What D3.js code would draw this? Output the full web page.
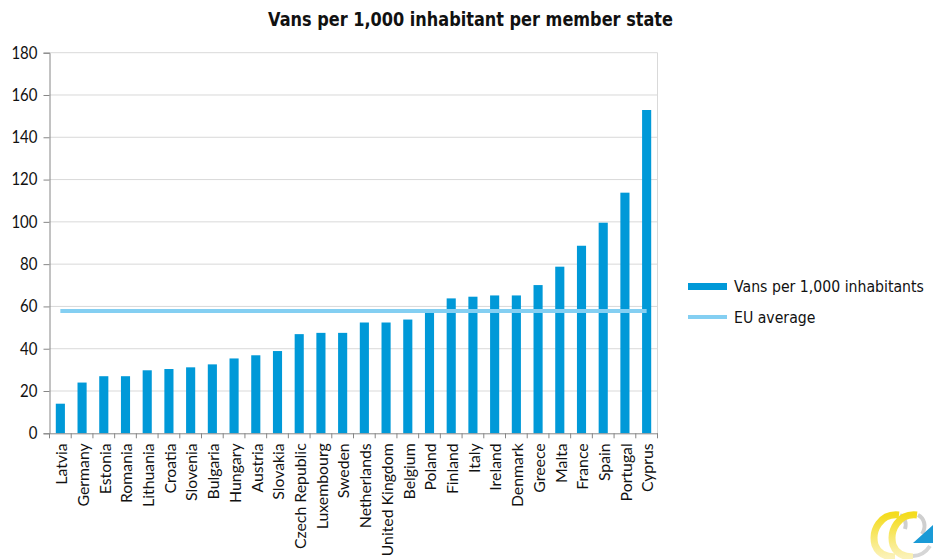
<!DOCTYPE html>
<html>
<head>
<meta charset="utf-8">
<script src="https://cdn.jsdelivr.net/npm/d3@7"></script>
<style>
  html, body { margin: 0; padding: 0; background: #ffffff; }
  svg { display: block; }
</style>
</head>
<body>
<svg id="chart" width="933" height="559"></svg>
<script>
const title = "Vans per 1,000 inhabitant per member state";
const categories = ["Latvia","Germany","Estonia","Romania","Lithuania","Croatia","Slovenia","Bulgaria","Hungary","Austria","Slovakia","Czech Republic","Luxembourg","Sweden","Netherlands","United Kingdom","Belgium","Poland","Finland","Italy","Ireland","Denmark","Greece","Malta","France","Spain","Portugal","Cyprus"];
const vansPer1000 = [14, 24, 27, 27, 29.8, 30.4, 31.2, 32.6, 35.4, 36.9, 38.9, 46.9, 47.5, 47.5, 52.4, 52.4, 53.8, 57.8, 63.8, 64.6, 65.2, 65.2, 70.1, 78.8, 88.7, 99.6, 113.8, 152.9];
const euAverage = 57.8;
const yTicks = [0, 20, 40, 60, 80, 100, 120, 140, 160, 180];
const seriesNames = ["Vans per 1,000 inhabitants", "EU average"];

const svg = d3.select("#chart");
const plot = { left: 49.5, right: 657.5, top: 52.7, bottom: 433.3 };
const barColor = "#0099d8";
const lineColor = "#84cff2";
const textColor = "#111111";

function fit(sel, target) {
  const node = sel.node();
  const fs = parseFloat(sel.attr("font-size"));
  const w = node.getComputedTextLength();
  if (w > 0) sel.attr("font-size", (fs * target / w).toFixed(2));
}

const x = d3.scaleBand().domain(categories).range([plot.left, plot.right]).paddingInner(0.58).paddingOuter(0.29);
const y = d3.scaleLinear().domain([0, 180]).range([plot.bottom, plot.top]);

// gridlines
svg.append("g").selectAll("line").data(yTicks.filter(d => d > 0)).join("line")
  .attr("x1", plot.left).attr("x2", plot.right)
  .attr("y1", d => y(d)).attr("y2", d => y(d))
  .attr("stroke", "#d9d9d9").attr("stroke-width", 1);
svg.append("line").attr("x1", plot.right).attr("x2", plot.right).attr("y1", plot.top).attr("y2", plot.bottom)
  .attr("stroke", "#d9d9d9").attr("stroke-width", 1);

// bars
svg.append("g").selectAll("rect").data(categories).join("rect")
  .attr("x", d => x(d)).attr("width", x.bandwidth())
  .attr("y", (d, i) => y(vansPer1000[i]))
  .attr("height", (d, i) => y(0) - y(vansPer1000[i]))
  .attr("fill", barColor);

// EU average line
const lineGen = d3.line().x(d => x(d) + x.bandwidth() / 2).y(() => y(euAverage));
svg.append("path").datum(categories).attr("d", lineGen)
  .attr("fill", "none").attr("stroke", lineColor).attr("stroke-width", 4);

// y axis
const yAxis = svg.append("g").attr("transform", `translate(${plot.left},0)`)
  .call(d3.axisLeft(y).tickValues(yTicks).tickSize(6).tickPadding(6).tickFormat(d3.format("d")));
yAxis.select(".domain").attr("stroke", "#868686");
yAxis.selectAll(".tick line").attr("stroke", "#868686");
yAxis.selectAll("text").attr("font-family", "Lato, 'Open Sans', sans-serif").attr("font-size", 15)
  .attr("fill", textColor).attr("transform", "scale(1,1.12)");

// x axis
const xAxis = svg.append("g").attr("transform", `translate(0,${plot.bottom})`)
  .call(d3.axisBottom(x).tickSize(0).tickPadding(0));
xAxis.select(".domain").attr("stroke", "#868686");
const xLabels = xAxis.selectAll(".tick text")
  .attr("font-family", "Lato, 'Open Sans', sans-serif").attr("font-size", 16).attr("fill", textColor)
  .attr("text-anchor", "end").attr("y", 0).attr("dy", "0.42em").attr("x", -10)
  .attr("transform", "rotate(-90)");
// stretch labels along their length so the longest matches the reference length
let maxLen = 0;
xLabels.each(function() { maxLen = Math.max(maxLen, this.getComputedTextLength()); });
const targetLongest = 113;
xLabels.each(function() {
  const len = this.getComputedTextLength();
  if (maxLen > 0) {
    d3.select(this).attr("textLength", (len * targetLongest / maxLen).toFixed(1))
      .attr("lengthAdjust", "spacingAndGlyphs");
  }
});

const step = x.step();
svg.append("g").selectAll("line").data(d3.range(categories.length + 1)).join("line")
  .attr("x1", i => plot.left + i * step).attr("x2", i => plot.left + i * step)
  .attr("y1", plot.bottom).attr("y2", plot.bottom + 5)
  .attr("stroke", "#868686").attr("stroke-width", 1);

// title
const t = svg.append("text").attr("x", 0).attr("y", 0).attr("text-anchor", "middle")
  .attr("transform", "translate(470.5,25.5) scale(1,1.18)")
  .attr("font-family", "'DejaVu Sans', Verdana, sans-serif").attr("font-weight", "bold")
  .attr("font-size", 15).attr("fill", textColor).text(title);
fit(t, 405);

// legend
const lg = svg.append("g");
lg.append("rect").attr("x", 688).attr("y", 283).attr("width", 39).attr("height", 7).attr("fill", barColor);
lg.append("line").attr("x1", 688).attr("x2", 727).attr("y1", 317).attr("y2", 317)
  .attr("stroke", lineColor).attr("stroke-width", 4);
const l1 = lg.append("text").attr("transform", "translate(734,291.5) scale(1,1.15)")
  .attr("font-family", "'DejaVu Sans', Verdana, sans-serif").attr("font-size", 14).attr("fill", textColor)
  .text(seriesNames[0]);
fit(l1, 190);
lg.append("text").attr("transform", "translate(734,322.5) scale(1,1.15)")
  .attr("font-family", "'DejaVu Sans', Verdana, sans-serif").attr("font-size", l1.attr("font-size")).attr("fill", textColor)
  .text(seriesNames[1]);

// logo (decorative)
const defs = svg.append("defs");
const grad = defs.append("linearGradient").attr("id", "yg").attr("x1", 0).attr("y1", 0).attr("x2", 0).attr("y2", 1);
grad.append("stop").attr("offset", 0).attr("stop-color", "#f4dc1e");
grad.append("stop").attr("offset", 1).attr("stop-color", "#fbf2b8");
const logo = svg.append("g");
logo.append("path").attr("d", "M900,515 C904,517 907,522 905,529").attr("fill", "none").attr("stroke", "#cfcfcf").attr("stroke-width", 4);
logo.append("path").attr("d", "M918,515 C924,518 927,526 922,534").attr("fill", "none").attr("stroke", "#cfcfcf").attr("stroke-width", 4);
logo.append("path").attr("d", "M913,556 C920,556 926,552 930,546").attr("fill", "none").attr("stroke", "#d6d6d6").attr("stroke-width", 4);
logo.append("path").attr("d", "M899,515 C881,513 871,530 875,545 C878,553 885,557 895,557").attr("fill", "none").attr("stroke", "url(#yg)").attr("stroke-width", 7);
logo.append("path").attr("d", "M917,515 C899,513 889,530 893,545 C896,553 903,557 913,557").attr("fill", "none").attr("stroke", "url(#yg)").attr("stroke-width", 7);
logo.append("path").attr("d", "M913,543 L933,525 L933,543 Z").attr("fill", "#1a9ad6");
</script>
</body>
</html>
